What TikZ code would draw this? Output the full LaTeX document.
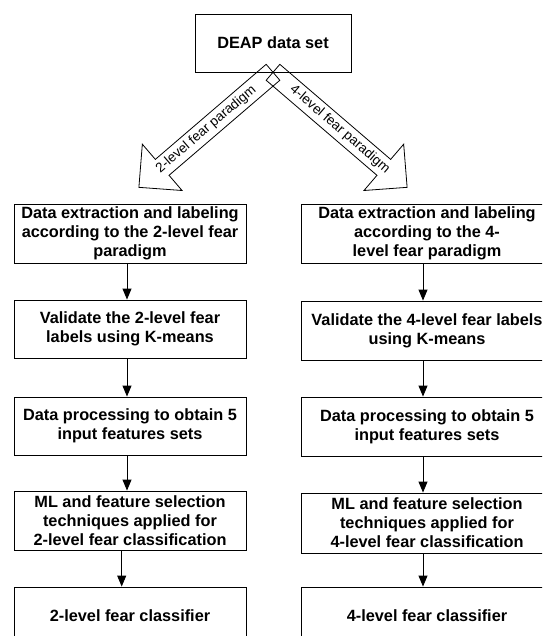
\documentclass[tikz,border=0pt]{standalone}
\usepackage{fontspec}
\setmainfont{Liberation Sans}
\usetikzlibrary{arrows.meta}
\begin{document}
\begin{tikzpicture}[x=1pt,y=-1pt,
  box/.style={draw=black, line width=0.9pt, inner sep=0pt, align=center,
    font=\bfseries\fontsize{16.3}{19}\selectfont},
  lbox/.style={box, minimum width=232},
  rbox/.style={box, minimum width=252},
  arr/.style={line width=0.9pt, -{Triangle[width=9pt,length=11pt]}},
  bigarrow/.style={draw=black, line width=0.8pt, line join=miter},
  arrlabel/.style={font=\fontsize{13.5}{15}\selectfont, inner sep=0pt}]
\useasboundingbox (0,0) rectangle (542,636);
\clip (0,0) rectangle (542,636);

% top box
\node[box, minimum width=156, minimum height=58] (deap) at (273,43) {DEAP data set};

% big arrows
\draw[bigarrow] (266.16,64.33) -- (155.35,159.38) -- (142.33,144.2) -- (138.89,187.34)
  -- (182.05,190.5) -- (169.03,175.32) -- (279.84,80.27) -- cycle;
\draw[bigarrow] (279.84,64.33) -- (390.65,159.38) -- (403.67,144.2) -- (407.11,187.34)
  -- (363.95,190.5) -- (376.97,175.32) -- (266.16,80.27) -- cycle;
\node[arrlabel, rotate=40.6] (lab2) at (206.2,129.6) {2-level fear paradigm};
\node[arrlabel, rotate=-40.6] (lab4) at (339.8,129.6) {4-level fear paradigm};

% left column
\node[lbox, minimum height=59] (L1) at (130,233.5) {Data extraction and labeling\\according to the 2-level fear\\paradigm};
\node[lbox, minimum height=58] (L2) at (130,329) {Validate the 2-level fear\\labels using K-means};
\node[lbox, minimum height=58] (L3) at (130,426) {Data processing to obtain 5\\input features sets};
\node[lbox, minimum height=59] (L4) at (130,520.5) {ML and feature selection\\techniques applied for\\2-level fear classification};
\node[lbox, minimum height=58] (L5) at (130,616) {2-level fear classifier};

% right column
\node[rbox, minimum height=59] (R1) at (427,233.5) {Data extraction and labeling\\according to the 4-\\level fear paradigm};
\node[rbox, minimum height=59] (R2) at (427,330.5) {Validate the 4-level fear labels\\using K-means};
\node[rbox, minimum height=59] (R3) at (427,426.5) {Data processing to obtain 5\\input features sets};
\node[rbox, minimum height=60] (R4) at (427,523) {ML and feature selection\\techniques applied for\\4-level fear classification};
\node[rbox, minimum height=58] (R5) at (427,616) {4-level fear classifier};

% connector x positions
\coordinate (lx) at (127,0);
\coordinate (lx2) at (121.7,0);
\coordinate (rx) at (423,0);

\draw[arr] (L1.south -| lx) -- (L2.north -| lx);
\draw[arr] (L2.south -| lx) -- (L3.north -| lx);
\draw[arr] (L3.south -| lx) -- (L4.north -| lx);
\draw[arr] (L4.south -| lx2) -- (L5.north -| lx2);

\draw[arr] (R1.south -| rx) -- (R2.north -| rx);
\draw[arr] (R2.south -| rx) -- (R3.north -| rx);
\draw[arr] (R3.south -| rx) -- (R4.north -| rx);
\draw[arr] (R4.south -| rx) -- (R5.north -| rx);
\end{tikzpicture}
\end{document}
